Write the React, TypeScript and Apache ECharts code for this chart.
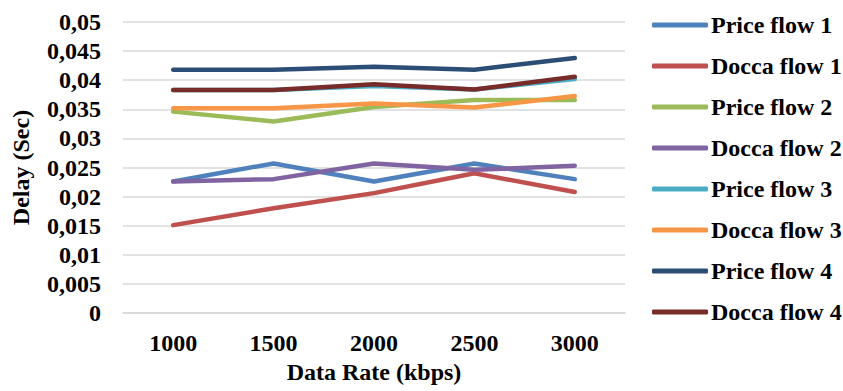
import React, { useEffect, useRef } from "react";
import * as echarts from "echarts";

const categories = ["1000", "1500", "2000", "2500", "3000"];
const seriesNames = [
  "Price flow 1",
  "Docca flow 1",
  "Price flow 2",
  "Docca flow 2",
  "Price flow 3",
  "Docca flow 3",
  "Price flow 4",
  "Docca flow 4",
];
const priceFlow1 = [0.0226, 0.0257, 0.0226, 0.0257, 0.023];
const doccaFlow1 = [0.0151, 0.018, 0.0206, 0.024, 0.0208];
const priceFlow2 = [0.0346, 0.0329, 0.0354, 0.0366, 0.0366];
const doccaFlow2 = [0.0226, 0.023, 0.0257, 0.0246, 0.0253];
const priceFlow3 = [0.0383, 0.0383, 0.039, 0.0384, 0.0402];
const doccaFlow3 = [0.0352, 0.0352, 0.036, 0.0353, 0.0373];
const priceFlow4 = [0.0418, 0.0418, 0.0423, 0.0418, 0.0438];
const doccaFlow4 = [0.0383, 0.0383, 0.0393, 0.0384, 0.0406];
const seriesData = [
  priceFlow1,
  doccaFlow1,
  priceFlow2,
  doccaFlow2,
  priceFlow3,
  doccaFlow3,
  priceFlow4,
  doccaFlow4,
];
const colors = [
  "#4F81BD",
  "#C0504D",
  "#9BBB59",
  "#8064A2",
  "#4BACC6",
  "#F79646",
  "#2C4D75",
  "#772C2A",
];

const FONT = "Liberation Serif";

export default function App() {
  const ref = useRef<HTMLDivElement>(null);
  useEffect(() => {
    if (!ref.current) return;
    const chart = echarts.init(ref.current, null, { renderer: "svg" });
    chart.setOption({
      animation: false,
      backgroundColor: "#ffffff",
      color: colors,
      textStyle: { fontFamily: FONT },
      grid: { left: 123, right: 218, top: 22, bottom: 78, containLabel: false },
      legend: {
        orient: "vertical",
        left: 652,
        top: 13,
        padding: 0,
        itemWidth: 56,
        itemHeight: 5,
        itemGap: 17,
        icon: "roundRect",
        textStyle: {
          fontFamily: FONT,
          fontWeight: "bold",
          fontSize: 24,
          color: "#000",
          lineHeight: 24,
          padding: [0, 0, 0, -2],
        },
        data: seriesNames,
      },
      xAxis: {
        type: "category",
        data: categories,
        boundaryGap: true,
        name: "Data Rate (kbps)",
        nameLocation: "middle",
        nameGap: 47,
        nameTextStyle: {
          fontFamily: FONT,
          fontWeight: "bold",
          fontSize: 24,
          color: "#000",
        },
        axisLine: { lineStyle: { color: "#d9d9d9", width: 1.5 } },
        axisTick: { show: false },
        axisLabel: {
          fontFamily: FONT,
          fontWeight: "bold",
          fontSize: 24,
          color: "#000",
          margin: 18,
        },
      },
      yAxis: {
        type: "value",
        min: 0,
        max: 0.05,
        interval: 0.005,
        name: "Delay (Sec)",
        nameLocation: "middle",
        nameRotate: 90,
        nameGap: 90,
        nameTextStyle: {
          fontFamily: FONT,
          fontWeight: "bold",
          fontSize: 24,
          color: "#000",
        },
        axisLine: { show: false },
        axisTick: { show: false },
        splitLine: { lineStyle: { color: "#d9d9d9", width: 1.5 } },
        axisLabel: {
          fontFamily: FONT,
          fontWeight: "bold",
          fontSize: 24,
          color: "#000",
          margin: 22,
          formatter: (v: number) => String(+v.toFixed(3)).replace(".", ","),
        },
      },
      series: seriesNames.map((name, i) => ({
        name,
        type: "line",
        data: seriesData[i],
        symbol: "none",
        lineStyle: { width: 4.5, color: colors[i], cap: "round", join: "round" },
        itemStyle: { color: colors[i] },
      })),
    });
    return () => chart.dispose();
  }, []);
  return (
    <div
      ref={ref}
      style={{ position: "fixed", left: 0, top: 0, width: 843, height: 391 }}
    />
  );
}
